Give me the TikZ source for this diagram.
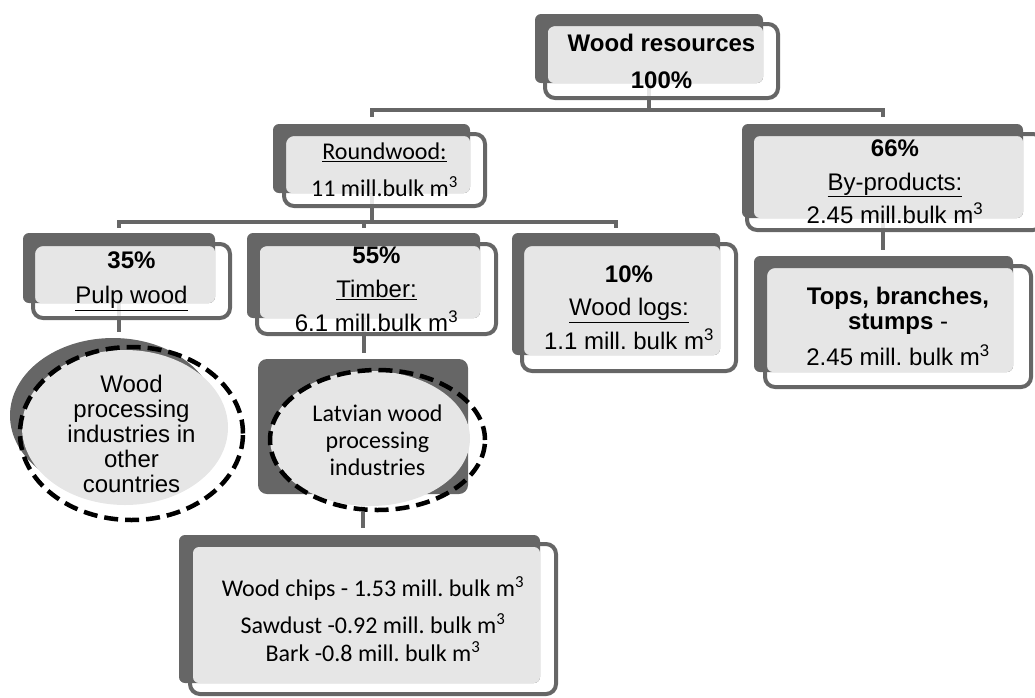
\documentclass[tikz,border=0pt]{standalone}
\usepackage{fontspec}
\setmainfont{Liberation Sans}
\newfontfamily\calibri{Carlito}
\usetikzlibrary{fit, shapes.geometric}
\definecolor{boxdark}{RGB}{102,102,102}
\definecolor{boxlight}{RGB}{230,230,230}
\pgfdeclarelayer{wires}
\pgfsetlayers{wires,main}
\frenchspacing
\newcommand{\cubic}{m\textsuperscript{3}}
\tikzset{
  backbox/.style={fill=boxdark, rounded corners=6pt, inner sep=0pt},
  facebox/.style={fill=boxlight, rounded corners=6pt, inner sep=0pt},
  rimbox/.style={draw=boxdark, line width=4pt, rounded corners=10pt, inner sep=0pt, align=center},
  dashring/.style={draw=black, line width=4.5pt, dash pattern=on 14pt off 7pt, ellipse, inner sep=-4pt, align=center},
  link/.style={draw=boxdark, line width=4pt},
  stub/.style={draw=boxlight, line width=4pt},
}

\begin{document}
\begin{tikzpicture}[x=1pt, y=-1pt, font=\fontsize{24}{29}\selectfont]
\useasboundingbox (0,0) rectangle (1035,697);
\clip (0,0) rectangle (1035,697);

\node[backbox, fit={(535,14) (763,83)}] (topB) {};
\node[facebox, fit={(548,26) (763,83)}] (topF) {};
\node[rimbox, minimum width=233pt, minimum height=74pt, font=\fontsize{24}{37}\selectfont\bfseries] (top) at (661.5,61) {Wood resources\\100\%};

\node[backbox, fit={(273,124) (470,193)}] (rwB) {};
\node[facebox, fit={(286,136) (470,193)}] (rwF) {};
\node[rimbox, minimum width=201pt, minimum height=72pt, font=\calibri\fontsize{24}{37}\selectfont] (rw) at (384.5,170) {\underline{Roundwood:}\\11 mill.bulk \cubic};

\node[backbox, fit={(742,124) (1023,218)}] (bypB) {};
\node[facebox, fit={(754,136) (1023,218)}] (bypF) {};
\node[rimbox, minimum width=296pt, minimum height=96pt, font=\fontsize{24}{33.5}\selectfont] (byp) at (895,182) {\textbf{66\%}\\\underline{By-products:}\\2.45 mill.bulk \cubic};

\node[backbox, fit={(23,233) (215,303)}] (pulpB) {};
\node[facebox, fit={(35,246) (215,303)}] (pulpF) {};
\node[rimbox, minimum width=197pt, minimum height=74pt, font=\fontsize{24}{35}\selectfont] (pulp) at (131.5,281) {\textbf{35\%}\\\underline{Pulp wood}};

\node[backbox, fit={(247,233) (480,318)}] (timB) {};
\node[facebox, fit={(260,246) (480,318)}] (timF) {};
\node[rimbox, minimum width=239pt, minimum height=90pt, font=\fontsize{24}{34}\selectfont] (tim) at (376.5,289) {\textbf{55\%}\\\underline{Timber:}\\6.1 mill.bulk \cubic};

\node[backbox, fit={(512,233) (720,355)}] (logB) {};
\node[facebox, fit={(524,246) (720,355)}] (logF) {};
\node[rimbox, minimum width=214pt, minimum height=127pt, font=\fontsize{24}{33.5}\selectfont] (logs) at (629,307.5) {\textbf{10\%}\\\underline{Wood logs:}\\1.1 mill. bulk \cubic};

\node[backbox, fit={(754,256) (1013,372)}] (topsB) {};
\node[facebox, fit={(767,268) (1013,372)}] (topsF) {};
\node[rimbox, minimum width=266pt, minimum height=121pt, font=\fontsize{24}{25}\selectfont] (tops) at (898,326.5) {\textbf{Tops, branches,}\\\textbf{stumps} -\\[10pt]2.45 mill. bulk \cubic};

\node[backbox, ellipse, minimum width=206pt, minimum height=155pt] (othB) at (113,415.5) {};
\node[facebox, ellipse, minimum width=206pt, minimum height=155pt] (othF) at (125,427.5) {};
\node[dashring, minimum width=223pt, minimum height=173pt, font=\fontsize{24}{25}\selectfont] (oth) at (131.5,433.5) {Wood\\processing\\industries in\\other\\countries};

\node[backbox, rounded corners=9pt, fit={(258,359) (468,494)}] (latB) {};
\node[facebox, ellipse, minimum width=200pt, minimum height=135pt] (latF) at (370,438.5) {};
\node[dashring, minimum width=215pt, minimum height=140pt, font=\calibri\fontsize{24}{27}\selectfont] (lat) at (377.5,440) {Latvian wood\\processing\\industries};

\node[backbox, fit={(179,535) (540,683)}] (restB) {};
\node[facebox, fit={(193,547) (540,683)}] (restF) {};
\node[rimbox, minimum width=366pt, minimum height=150pt, font=\calibri\fontsize{24}{28}\selectfont] (rest) at (373,619) {Wood chips - 1.53 mill. bulk \cubic\\[9pt]Sawdust -0.92 mill. bulk \cubic\\Bark -0.8 mill. bulk \cubic};

\begin{pgfonlayer}{wires}
\draw[stub] (topB.south) -- (topB.south |- top.south);
\draw[link, shorten >=7pt] (topB.south |- top.south) -- ++(0,10) -| (rwB.north);
\draw[link, shorten >=7pt] (topB.south |- top.south) -- ++(0,10) -| (bypB.north);
\draw[stub] (rwB.south) -- (rwB.south |- rw.south);
\draw[link, shorten >=5pt] (rwB.south |- rw.south) -- ++(0,14) -| (pulpB.north);
\draw[link, shorten >=5pt] (rwB.south |- rw.south) -- ++(0,14) -| (timB.north);
\draw[link, shorten >=5pt] (rwB.south |- rw.south) -- ++(0,14) -| (logB.north);
\draw[stub] (pulpB.south) -- (pulpB.south |- pulp.south);
\draw[link, shorten >=6pt] (pulpB.south |- pulp.south) -- (pulpB.south |- othB.north);
\draw[stub] (timB.south) -- (timB.south |- tim.south);
\draw[link, shorten >=6pt] (timB.south |- tim.south) -- (timB.south |- latB.north);
\draw[stub] (latB.south) -- (latB.south |- lat.south);
\draw[link, shorten >=7pt] (latB.south |- lat.south) -- (latB.south |- restB.north);
\draw[stub] (bypB.south) -- (bypB.south |- byp.south);
\draw[link, shorten >=6pt] (bypB.south |- byp.south) -- (bypB.south |- topsB.north);
\end{pgfonlayer}
\end{tikzpicture}
\end{document}
